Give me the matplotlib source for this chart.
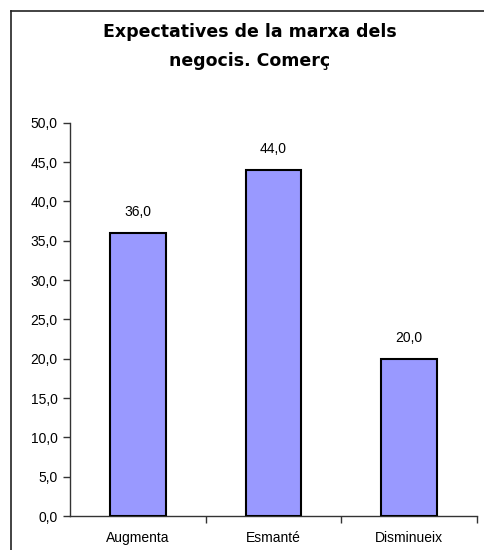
import numpy as np
import matplotlib.pyplot as plt
from matplotlib.lines import Line2D

categories = ["Augmenta", "Esmanté", "Disminueix"]
values = [36.0, 44.0, 20.0]
y_ticks = [0, 5, 10, 15, 20, 25, 30, 35, 40, 45, 50]
title = "Expectatives de la marxa dels\nnegocis. Comerç"


def fmt(v):
    return f"{v:.1f}".replace(".", ",")


plt.rcParams['font.family'] = ['Liberation Sans', 'DejaVu Sans']

fig = plt.figure(figsize=(4.85, 5.5), dpi=100)
ax = fig.add_axes([0.1443, 0.0618, 0.8392, 0.7151])

x = np.arange(len(categories))
ax.bar(x, values, width=0.41, color='#9999FF', edgecolor='black', linewidth=1.5, zorder=3)
for xi, v in zip(x, values):
    ax.annotate(fmt(v), (xi, v), xytext=(0, 10), textcoords='offset points',
                ha='center', va='bottom', fontsize=10)

ax.set_xlim(-0.5, len(categories) - 0.5)
ax.set_ylim(0, 50)
ax.set_yticks(y_ticks)
ax.set_yticklabels([fmt(t) for t in y_ticks], fontsize=10)
ax.set_xticks(x)
ax.set_xticklabels(categories, fontsize=10)
ax.tick_params(axis='x', which='major', length=0, pad=11)
ax.set_xticks(np.arange(len(categories)) + 0.5, minor=True)
ax.tick_params(axis='x', which='minor', length=5, color='#333333', width=1)
ax.tick_params(axis='y', length=5, color='#333333', width=1, pad=4)

for side in ['top', 'right']:
    ax.spines[side].set_visible(False)
for side in ['left', 'bottom']:
    ax.spines[side].set_color('#333333')
    ax.spines[side].set_linewidth(1)

fig.text(0.515, 0.9155, title, ha='center', va='center', fontsize=12.5,
         fontweight='bold', linespacing=1.75, family=['DejaVu Sans'])

# chart frame (only left and top edges visible in the picture)
fig.add_artist(Line2D([11 / 485, 11 / 485], [0, 1 - 11 / 550], color='#222222', lw=1.2))
fig.add_artist(Line2D([11 / 485, 1], [1 - 11 / 550, 1 - 11 / 550], color='#222222', lw=1.2))

fig.savefig("out.png", dpi=100)
plt.close(fig)
